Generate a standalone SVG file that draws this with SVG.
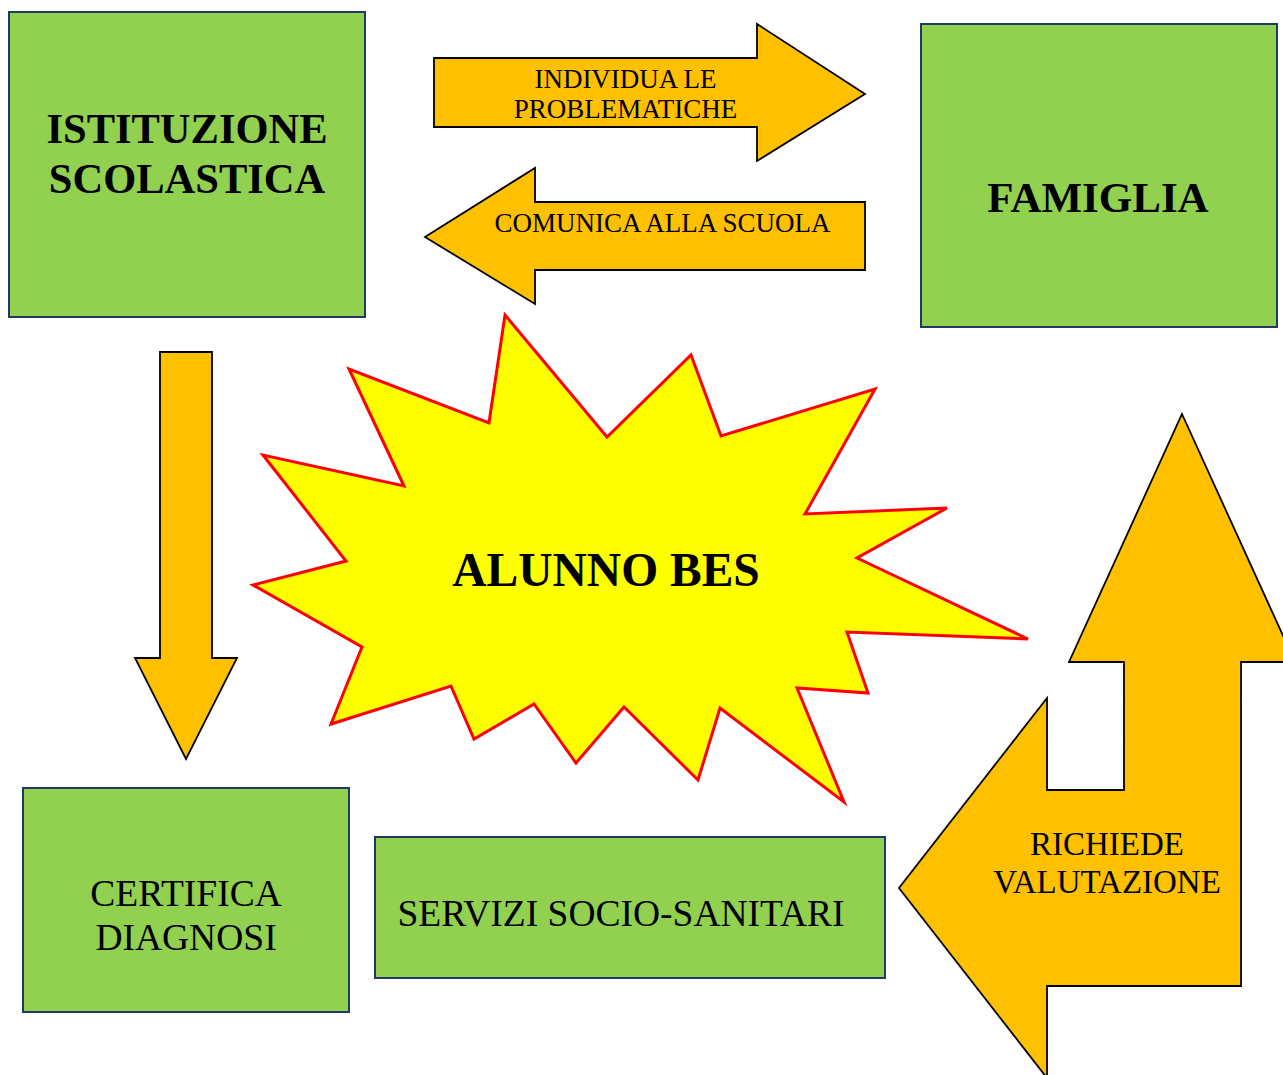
<svg xmlns="http://www.w3.org/2000/svg" width="1283" height="1075" viewBox="0 0 1283 1075">
<style>
.box{fill:#92D050;stroke:#1F3864;stroke-width:2}
.arrow{fill:#FFC000;stroke:#000;stroke-width:1.8;stroke-linejoin:miter}
.burst{fill:#FFFF00;stroke:#FF0000;stroke-width:3}
text{font-family:"Liberation Serif","Times New Roman",serif;fill:#000;text-anchor:middle}
.b{font-weight:bold}
</style>
<rect width="1283" height="1075" fill="#fff"/>
<g id="connectors">
<g id="arrow-individua">
<path class="arrow" d="M434,58 L757,58 L757,24 L865,94 L757,161 L757,127 L434,127 Z"/>
<text x="625.5" y="88" font-size="27">INDIVIDUA LE</text>
<text x="625.5" y="118" font-size="27">PROBLEMATICHE</text>
</g>
<g id="arrow-comunica">
<path class="arrow" d="M865,202 L535,202 L535,168 L425,237 L535,304 L535,270 L865,270 Z"/>
<text x="662.5" y="232" font-size="27">COMUNICA ALLA SCUOLA</text>
</g>
<g id="arrow-down">
<path class="arrow" d="M160,352 L212,352 L212,658 L237,658 L186,759 L135,658 L160,658 Z"/>
</g>
<g id="arrow-richiede">
<path class="arrow" d="M1182,414 L1295,662 L1241,662 L1241,986 L1047,986 L1047,1078 L899,888 L1047,698 L1047,790 L1124,790 L1124,662 L1069,662 Z"/>
<text x="1107" y="855" font-size="33">RICHIEDE</text>
<text x="1107" y="893" font-size="33">VALUTAZIONE</text>
</g>
</g>
<g id="istituzione">
<rect class="box" x="9" y="12" width="356" height="305"/>
<text class="b" x="187" y="143" font-size="42.5">ISTITUZIONE</text>
<text class="b" x="187" y="193" font-size="42.5">SCOLASTICA</text>
</g>
<g id="famiglia">
<rect class="box" x="921" y="24" width="356" height="303"/>
<text class="b" x="1098" y="212" font-size="43">FAMIGLIA</text>
</g>
<g id="alunno">
<polygon class="burst" points="505,315 607,437 691,355 721,436 875,389 805,514 947,508 857,558 1028,639 847,632 868,693 797,688 844,802 720,708 698,780 624,707 576,763 534,704 474,739 451,686 331,724 362,647 253,585 346,561 263,455 404,486 349,369 489,423"/>
<text class="b" x="606" y="586" font-size="47.5">ALUNNO BES</text>
</g>
<g id="certifica">
<rect class="box" x="23" y="788" width="326" height="224"/>
<text x="186" y="906" font-size="37.5">CERTIFICA</text>
<text x="186" y="950" font-size="37.5">DIAGNOSI</text>
</g>
<g id="servizi">
<rect class="box" x="375" y="837" width="510" height="141"/>
<text x="621" y="926" font-size="37.5">SERVIZI SOCIO-SANITARI</text>
</g>
</svg>
